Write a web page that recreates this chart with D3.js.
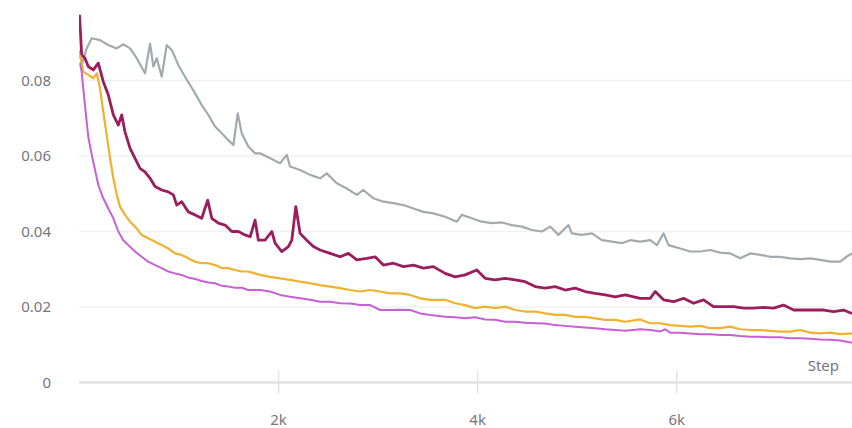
<!DOCTYPE html>
<html>
<head>
<meta charset="utf-8">
<script src="https://cdn.jsdelivr.net/npm/d3@7"></script>
<style>
  body { margin: 0; background: #fff; }
  svg { display: block; font-family: "Noto Sans", sans-serif; }
</style>
</head>
<body>
<svg id="chart" width="852" height="428"></svg>
<script>
// runs as [step, loss]
const greyRun = [
  [10,0.0880],[27,0.0841],[77,0.0885],[128,0.0912],[211,0.0907],[294,0.0894],[379,0.0885],[445,0.0896],
  [513,0.0885],[580,0.0859],[663,0.0819],[714,0.0898],[747,0.0837],[781,0.0859],[831,0.0810],[881,0.0894],
  [932,0.0881],[998,0.0841],[1065,0.0810],[1116,0.0788],[1166,0.0766],[1233,0.0735],[1299,0.0709],[1367,0.0678],
  [1434,0.0660],[1500,0.0642],[1551,0.0629],[1595,0.0713],[1635,0.0660],[1701,0.0625],[1769,0.0607],[1819,0.0607],
  [1920,0.0594],[2020,0.0581],[2087,0.0603],[2121,0.0572],[2221,0.0563],[2322,0.0550],[2422,0.0541],[2489,0.0554],
  [2590,0.0528],[2690,0.0514],[2791,0.0497],[2857,0.0510],[2958,0.0488],[3058,0.0479],[3159,0.0475],[3259,0.0470],
  [3360,0.0461],[3460,0.0452],[3561,0.0448],[3678,0.0439],[3796,0.0426],[3846,0.0444],[3947,0.0435],[4047,0.0426],
  [4148,0.0422],[4248,0.0424],[4349,0.0417],[4449,0.0413],[4550,0.0404],[4650,0.0400],[4734,0.0413],[4817,0.0391],
  [4918,0.0417],[4951,0.0395],[5052,0.0391],[5153,0.0395],[5253,0.0377],[5354,0.0373],[5454,0.0369],[5538,0.0377],
  [5638,0.0373],[5739,0.0377],[5806,0.0364],[5873,0.0395],[5923,0.0364],[6040,0.0355],[6141,0.0347],[6241,0.0347],
  [6342,0.0351],[6442,0.0344],[6543,0.0342],[6643,0.0329],[6744,0.0342],[6844,0.0338],[6945,0.0333],[7045,0.0333],
  [7146,0.0329],[7246,0.0327],[7347,0.0329],[7447,0.0325],[7548,0.0320],[7648,0.0320],[7710,0.0333],[7766,0.0342]
];
const crimsonRun = [
  [5,0.0974],[27,0.0868],[60,0.0859],[93,0.0837],[144,0.0828],[194,0.0846],[244,0.0797],[294,0.0762],
  [345,0.0709],[395,0.0682],[429,0.0709],[462,0.0664],[513,0.0620],[563,0.0594],[613,0.0567],[663,0.0558],
  [714,0.0541],[764,0.0519],[831,0.0510],[897,0.0505],[948,0.0497],[982,0.0470],[1032,0.0479],[1098,0.0452],
  [1166,0.0444],[1233,0.0435],[1293,0.0483],[1334,0.0435],[1400,0.0422],[1467,0.0417],[1535,0.0400],[1601,0.0400],
  [1668,0.0391],[1719,0.0386],[1769,0.0430],[1802,0.0377],[1869,0.0377],[1937,0.0400],[1970,0.0369],[2037,0.0347],
  [2104,0.0360],[2138,0.0377],[2178,0.0466],[2221,0.0395],[2288,0.0377],[2355,0.0360],[2422,0.0351],[2523,0.0342],
  [2623,0.0333],[2707,0.0342],[2791,0.0325],[2891,0.0329],[2975,0.0333],[3058,0.0311],[3159,0.0316],[3259,0.0307],
  [3360,0.0311],[3460,0.0303],[3561,0.0307],[3678,0.0289],[3779,0.0280],[3879,0.0285],[3997,0.0298],[4080,0.0276],
  [4181,0.0272],[4281,0.0276],[4382,0.0272],[4482,0.0267],[4583,0.0254],[4683,0.0250],[4784,0.0254],[4884,0.0245],
  [4985,0.0250],[5085,0.0241],[5186,0.0236],[5286,0.0232],[5387,0.0227],[5487,0.0232],[5638,0.0223],[5739,0.0223],
  [5789,0.0241],[5873,0.0219],[5973,0.0214],[6073,0.0223],[6174,0.0210],[6274,0.0219],[6375,0.0201],[6475,0.0201],
  [6576,0.0201],[6676,0.0197],[6777,0.0197],[6878,0.0199],[6978,0.0197],[7078,0.0205],[7179,0.0192],[7280,0.0192],
  [7380,0.0192],[7481,0.0192],[7581,0.0188],[7681,0.0192],[7766,0.0183]
];
const goldRun = [
  [10,0.0868],[43,0.0823],[93,0.0815],[144,0.0806],[178,0.0819],[211,0.0779],[244,0.0717],[278,0.0656],
  [312,0.0594],[345,0.0541],[379,0.0497],[412,0.0466],[462,0.0444],[513,0.0426],[563,0.0413],[630,0.0391],
  [696,0.0382],[764,0.0373],[831,0.0364],[897,0.0355],[965,0.0342],[1032,0.0338],[1098,0.0329],[1166,0.0320],
  [1233,0.0316],[1299,0.0316],[1367,0.0311],[1434,0.0303],[1500,0.0303],[1568,0.0298],[1635,0.0294],[1701,0.0294],
  [1819,0.0285],[1920,0.0280],[2020,0.0276],[2121,0.0272],[2221,0.0267],[2322,0.0263],[2422,0.0258],[2523,0.0254],
  [2623,0.0250],[2724,0.0245],[2824,0.0241],[2925,0.0245],[3025,0.0241],[3126,0.0236],[3226,0.0236],[3327,0.0232],
  [3427,0.0223],[3528,0.0219],[3678,0.0219],[3779,0.0210],[3879,0.0205],[3980,0.0197],[4080,0.0201],[4181,0.0197],
  [4281,0.0201],[4382,0.0192],[4482,0.0188],[4583,0.0188],[4683,0.0183],[4784,0.0179],[4884,0.0179],[4985,0.0174],
  [5085,0.0174],[5186,0.0170],[5286,0.0166],[5387,0.0166],[5487,0.0161],[5638,0.0167],[5739,0.0157],[5839,0.0157],
  [5940,0.0152],[6040,0.0150],[6141,0.0148],[6241,0.0150],[6342,0.0144],[6442,0.0144],[6543,0.0148],[6643,0.0141],
  [6744,0.0139],[6844,0.0139],[6945,0.0137],[7045,0.0135],[7146,0.0135],[7246,0.0139],[7347,0.0132],[7447,0.0130],
  [7548,0.0132],[7648,0.0128],[7766,0.0130]
];
const violetRun = [
  [10,0.0846],[27,0.0823],[43,0.0779],[60,0.0735],[77,0.0691],[93,0.0651],[128,0.0603],[161,0.0563],
  [194,0.0523],[244,0.0488],[294,0.0461],[345,0.0435],[395,0.0400],[445,0.0377],[495,0.0364],[563,0.0347],
  [630,0.0333],[696,0.0320],[764,0.0311],[831,0.0303],[897,0.0294],[965,0.0289],[1032,0.0285],[1098,0.0278],
  [1166,0.0274],[1233,0.0269],[1299,0.0265],[1367,0.0263],[1434,0.0256],[1500,0.0254],[1568,0.0251],[1635,0.0251],
  [1701,0.0245],[1819,0.0245],[1920,0.0241],[2020,0.0232],[2121,0.0227],[2221,0.0223],[2322,0.0219],[2422,0.0214],
  [2523,0.0214],[2623,0.0210],[2724,0.0209],[2824,0.0205],[2925,0.0205],[3025,0.0192],[3126,0.0192],[3226,0.0193],
  [3327,0.0192],[3427,0.0183],[3528,0.0179],[3678,0.0174],[3779,0.0173],[3879,0.0170],[3980,0.0173],[4080,0.0167],
  [4181,0.0166],[4281,0.0161],[4382,0.0161],[4482,0.0158],[4583,0.0157],[4683,0.0156],[4784,0.0152],[4884,0.0150],
  [4985,0.0148],[5085,0.0146],[5186,0.0144],[5286,0.0141],[5387,0.0139],[5487,0.0137],[5638,0.0141],[5739,0.0139],
  [5839,0.0135],[5889,0.0141],[5940,0.0132],[6040,0.0132],[6141,0.0130],[6241,0.0128],[6342,0.0128],[6442,0.0126],
  [6543,0.0126],[6643,0.0123],[6744,0.0121],[6844,0.0121],[6945,0.0120],[7045,0.0120],[7146,0.0117],[7246,0.0117],
  [7347,0.0116],[7447,0.0114],[7548,0.0113],[7648,0.0111],[7766,0.0105]
];
const yTicks = [0, 0.02, 0.04, 0.06, 0.08];
const xTicks = [2000, 4000, 6000];

const runs = [
  { data: greyRun, color: '#a2aaaf', width: 2.2 },
  { data: crimsonRun, color: '#9c1d5d', width: 2.8 },
  { data: goldRun, color: '#efb12e', width: 2.2 },
  { data: violetRun, color: '#c660d3', width: 2 }
];

const plotLeft = 79, plotRight = 852, plotTop = 5, plotBottom = 382.5;

const x = d3.scaleLinear().domain([0, 7766]).range([plotLeft, plotRight]);
const y = d3.scaleLinear().domain([0, 0.1]).range([plotBottom, plotTop]);

const svg = d3.select('#chart');

// horizontal grid
svg.append('g')
  .selectAll('line')
  .data(yTicks.filter(d => d > 0))
  .join('line')
  .attr('x1', plotLeft).attr('x2', plotRight)
  .attr('y1', d => y(d)).attr('y2', d => y(d))
  .attr('stroke', '#f0f0f2')
  .attr('stroke-width', 1.5);

// y labels
svg.append('g')
  .selectAll('text')
  .data(yTicks)
  .join('text')
  .attr('x', 51)
  .attr('y', d => y(d))
  .attr('dy', '0.36em')
  .attr('text-anchor', 'end')
  .attr('font-size', 15)
  .attr('fill', '#76767f')
  .text(d => d === 0 ? '0' : d.toFixed(2));

// x axis
const xAxis = svg.append('g').attr('transform', `translate(0,${plotBottom})`)
  .call(d3.axisBottom(x).tickValues(xTicks).tickFormat(d => d / 1000 + 'k').tickSize(11));
xAxis.select('.domain').remove();
xAxis.selectAll('.tick line').attr('y1', -12).attr('stroke', '#e3e3e6').attr('stroke-width', 1.5);
xAxis.selectAll('.tick text')
  .attr('y', 42).attr('dy', null)
  .attr('font-size', 15).attr('fill', '#76767f').attr('font-family', '"Noto Sans", sans-serif');

svg.append('line')
  .attr('x1', plotLeft).attr('x2', plotRight)
  .attr('y1', y(0)).attr('y2', y(0))
  .attr('stroke', '#e3e3e6')
  .attr('stroke-width', 2.5);

svg.append('text')
  .attr('x', 839).attr('y', 371)
  .attr('text-anchor', 'end')
  .attr('font-size', 15)
  .attr('fill', '#76767f')
  .text('Step');

svg.append('clipPath').attr('id', 'plot')
  .append('rect').attr('x', plotLeft).attr('y', 0).attr('width', plotRight - plotLeft).attr('height', plotBottom);

const line = d3.line().x(d => x(d[0])).y(d => y(d[1]));

svg.append('g').attr('clip-path', 'url(#plot)')
  .selectAll('path')
  .data(runs)
  .join('path')
  .attr('fill', 'none')
  .attr('stroke', d => d.color)
  .attr('stroke-width', d => d.width)
  .attr('stroke-linejoin', 'round')
  .attr('d', d => line(d.data));
</script>
</body>
</html>
